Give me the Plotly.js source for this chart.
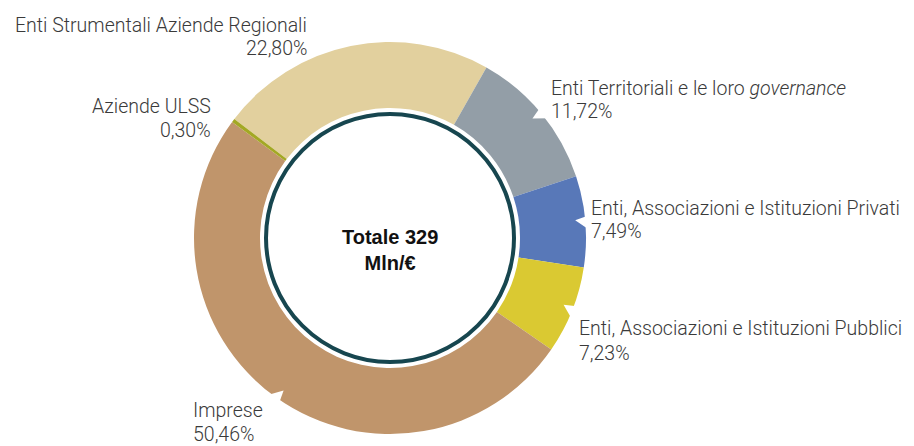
<!DOCTYPE html>
<html>
<head>
<meta charset="utf-8">
<script src="https://cdn.plot.ly/plotly-3.0.1.min.js"></script>
<style>
  html, body { margin: 0; padding: 0; background: #ffffff; }
  #chart { width: 914px; height: 446px; }
</style>
</head>
<body>
<div id="chart"></div>
<script>
// ---- data ----
const categories = [
  'Enti Strumentali Aziende Regionali',
  'Enti Territoriali e le loro <i>governance</i>',
  'Enti, Associazioni e Istituzioni Privati',
  'Enti, Associazioni e Istituzioni Pubblici',
  'Imprese',
  'Aziende ULSS'
];
const values = [22.80, 11.72, 7.49, 7.23, 50.46, 0.30];
const centerTitle = 'Totale 329';
const centerUnit = 'Mln/€';

// ---- styles ----
const colors = ['#E2D09E', '#939EA7', '#5878B8', '#DAC932', '#C0956B', '#A3A824'];
// label anchor positions in pixels: [x, yLine1, yLine2, xanchor]
const labelPos = [
  [308, 25, 48.5, 'right'],
  [550, 88, 111.5, 'left'],
  [590, 208.5, 232, 'left'],
  [578, 328, 353, 'left'],
  [192, 410, 434, 'left'],
  [212, 106, 130.5, 'right']
];
const notchedSlices = [1, 2, 3, 4];

const W = 914, H = 446;
const CX = 390, CY = 238, R = 196, RIN = 130;
const ROT = -52.6;
const px = x => x / W;
const py = y => 1 - y / H;

const fmt = v => v.toFixed(2).replace('.', ',') + '%';

const labelFont = { family: 'Roboto, "Liberation Sans", Arial, sans-serif', size: 19.5, color: '#3a3a3a', weight: 300 };

const annotations = [];
categories.forEach((c, i) => {
  const p = labelPos[i];
  annotations.push({
    xref: 'paper', yref: 'paper', x: px(p[0]), y: py(p[1]),
    xanchor: p[3], yanchor: 'middle', text: c, showarrow: false,
    font: labelFont, borderpad: 0
  });
  annotations.push({
    xref: 'paper', yref: 'paper', x: px(p[0]), y: py(p[2]),
    xanchor: p[3], yanchor: 'middle', text: fmt(values[i]), showarrow: false,
    font: labelFont, borderpad: 0
  });
});
annotations.push({
  xref: 'paper', yref: 'paper', x: px(CX), y: py(249.5),
  xanchor: 'center', yanchor: 'middle', align: 'center',
  text: '<b>' + centerTitle + '</b><br><b>' + centerUnit + '</b>',
  showarrow: false,
  font: { family: '"Liberation Sans", Arial, sans-serif', size: 20, color: '#111111' }
});

// small white notches in the outer edge at slice mid-angles (decoration)
const total = values.reduce((a, b) => a + b, 0);
const shapes = [];
let acc = 0;
const pt = (deg, r) => {
  const a = deg * Math.PI / 180;
  return px(CX + r * Math.sin(a)).toFixed(5) + ',' + py(CY - r * Math.cos(a)).toFixed(5);
};
values.forEach((v, i) => {
  const mid = ROT + (acc + v / 2) / total * 360;
  acc += v;
  if (notchedSlices.indexOf(i) < 0) return;
  shapes.push({
    type: 'path', xref: 'paper', yref: 'paper',
    path: 'M' + pt(mid - 1.6, R + 3) + ' L' + pt(mid - 0.6, R - 10) + ' L' + pt(mid + 2.4, R + 3) + ' Z',
    fillcolor: '#ffffff', line: { width: 0 }
  });
});
shapes.push({
  type: 'circle',
  xref: 'paper', yref: 'paper',
  xsizemode: 'pixel', ysizemode: 'pixel',
  xanchor: px(CX), yanchor: py(CY),
  x0: -124, x1: 124, y0: -124, y1: 124,
  line: { color: '#17464F', width: 4 },
  fillcolor: '#ffffff'
});

const trace = {
  type: 'pie',
  labels: categories,
  values: values,
  sort: false,
  direction: 'clockwise',
  rotation: ROT,
  hole: RIN / R,
  textinfo: 'none',
  hoverinfo: 'none',
  marker: { colors: colors, line: { width: 0 } },
  domain: { x: [px(CX - R), px(CX + R)], y: [py(CY + R), py(CY - R)] }
};

const layout = {
  width: W, height: H,
  margin: { l: 0, r: 0, t: 0, b: 0 },
  paper_bgcolor: '#ffffff',
  plot_bgcolor: '#ffffff',
  showlegend: false,
  hovermode: false,
  annotations: annotations,
  shapes: shapes
};

Plotly.newPlot('chart', [trace], layout, { staticPlot: true, displayModeBar: false });
</script>
</body>
</html>
